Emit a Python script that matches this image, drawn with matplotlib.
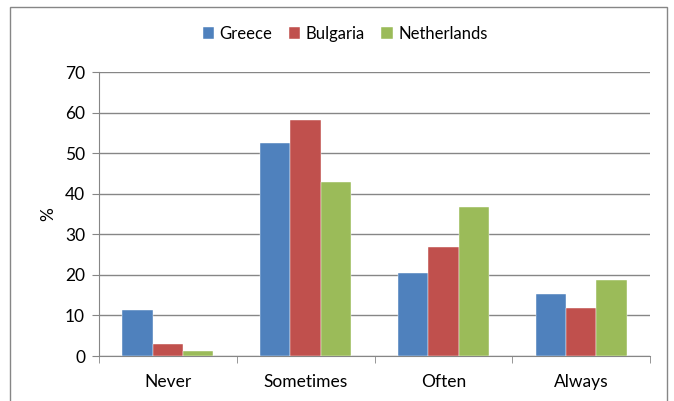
import matplotlib.pyplot as plt
import matplotlib.patches as patches
import numpy as np

categories = ['Never', 'Sometimes', 'Often', 'Always']
countries = ['Greece', 'Bulgaria', 'Netherlands']
greece = [11.3, 52.5, 20.4, 15.3]
bulgaria = [3.0, 58.1, 26.8, 11.9]
netherlands = [1.2, 42.9, 36.8, 18.7]
colors = ['#4F81BD', '#C0504D', '#9BBB59']

plt.rcParams['font.family'] = ['Lato', 'DejaVu Sans']

fig = plt.figure(figsize=(6.74, 4.01), dpi=100)
ax = fig.add_axes([0.1469, 0.1122, 0.8175, 0.7082])

# outer chart border
fig.patches.append(patches.Rectangle((10/674, -0.05), 657/674, 1.05 - 7/401,
                                     transform=fig.transFigure, fill=False,
                                     edgecolor='#868686', linewidth=1))

x = np.arange(len(categories))
w = 0.22
for i, (vals, name) in enumerate(zip([greece, bulgaria, netherlands], countries)):
    ax.bar(x + (i - 1) * w, vals, w, color=colors[i], label=name,
           edgecolor='white', linewidth=0.3, zorder=3)

ax.set_xlim(-0.5, 3.5)
ax.set_ylim(0, 70)
ax.set_yticks(range(0, 71, 10))
ax.yaxis.grid(True, color='#868686', linewidth=1)
ax.set_axisbelow(True)

fs = 12.5
ax.set_xticks(x)
ax.set_xticklabels(categories, fontsize=fs)
ax.tick_params(axis='x', length=0, pad=13)
ax.set_xticks(np.arange(-0.5, 4, 1), minor=True)
ax.tick_params(axis='x', which='minor', length=5, color='#868686')
ax.tick_params(axis='y', length=5, color='#868686', labelsize=fs, pad=5)

for s in ['top', 'right']:
    ax.spines[s].set_visible(False)
for s in ['left', 'bottom']:
    ax.spines[s].set_color('#868686')

ax.set_ylabel('%', fontsize=fs, labelpad=6)

fig.legend(loc='center', bbox_to_anchor=(345/674, 1 - 34/401), ncol=3,
           frameon=False, fontsize=12, handlelength=0.7, handleheight=0.7,
           handletextpad=0.3, columnspacing=1.0)

fig.savefig('out.png', dpi=100)
